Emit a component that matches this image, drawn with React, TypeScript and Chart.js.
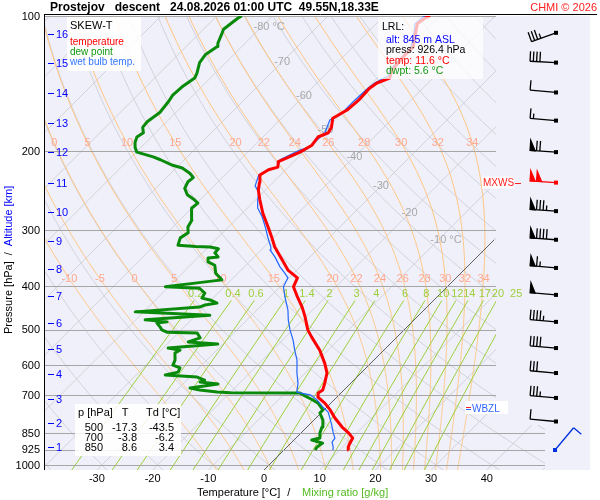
import React, { useEffect, useRef } from "react";
import { Chart, registerables } from "chart.js";
Chart.register(...registerables);

// ---- axes ----
const P_TOP = 100;
const P_BOT = 1026;
const X_MIN = -39.32;
const X_MAX = 58.53;
const SKEW = 80.61; // 45 degree skew: deg C shift per decade of pressure

// ---- temperature profile ----
const tempP = [926.3, 912, 894, 871, 849, 823, 786, 754, 728, 706, 691, 681, 657, 624, 593, 555, 519, 500, 468, 445, 423, 401, 383, 368, 349, 327, 311, 295, 275, 257, 244, 235, 226, 220, 217, 211, 207, 201, 194, 186, 182, 177, 169, 162, 154, 145, 141, 137.5, 132, 122, 117, 110, 104, 101, 100];
const tempT = [11.6, 11.0, 10.6, 10.2, 8.6, 6.3, 3.4, 1.1, -1.1, -3.4, -4.1, -3.8, -4.7, -6.1, -8.3, -11.5, -15.3, -17.3, -20.1, -22.4, -25.0, -27.6, -28.5, -31.6, -34.5, -38.1, -40.4, -42.9, -46.3, -49.2, -51.3, -52.4, -53.7, -53.1, -51.9, -52.8, -51.9, -50.6, -49.7, -50.1, -49.0, -49.4, -50.8, -49.7, -49.4, -49.6, -49.2, -47.8, -48.8, -49.2, -49.2, -51.0, -52.6, -52.2, -51.7];

// ---- dew point profile ----
const dewP = [926.3, 912, 894, 880, 871, 849, 823, 794, 766, 754, 728, 716.5, 700, 691, 690, 688, 681, 674, 660, 653, 647, 637, 630, 621, 608, 599, 584, 563, 555, 549, 538, 532, 521, 508, 506, 500, 493, 483, 480, 475, 464, 456, 445, 440, 436, 429, 425, 414, 404, 401, 393, 387, 383, 374, 359, 353, 346, 344, 337, 330, 327, 326, 324, 312, 304, 295, 285, 268, 261, 257, 250, 242, 234, 229, 224, 218, 215, 209, 206, 201, 196, 191, 186, 182, 177, 172, 164, 155, 150, 144, 137.5, 134, 127, 122, 117, 115, 109, 107, 103, 101, 100];
const dewT = [5.6, 5.4, 5.7, 3.2, 4.3, 3.4, 2.7, 1.6, -0.2, -0.2, -2.3, -3.8, -6.2, -7.4, -19.9, -22.4, -25.9, -28.0, -23.7, -27.3, -26.8, -28.7, -34.8, -33.0, -33.4, -35.2, -35.7, -37.0, -36.6, -39.1, -30.9, -36.6, -35.2, -36.6, -42.2, -43.5, -44.3, -45.6, -44.0, -48.3, -37.5, -51.5, -40.8, -40.2, -38.4, -40.2, -42.0, -42.4, -44.2, -50.6, -45.6, -41.7, -42.4, -44.0, -45.6, -47.4, -48.1, -46.5, -47.8, -47.9, -49.7, -52.4, -55.8, -56.7, -56.2, -57.3, -57.8, -60.0, -59.8, -60.9, -63.2, -64.8, -65.4, -65.2, -66.6, -68.9, -71.1, -74.3, -76.1, -79.9, -81.1, -82.0, -82.6, -82.2, -83.3, -83.5, -82.9, -83.3, -83.7, -83.5, -82.8, -83.3, -84.7, -85.1, -84.4, -84.9, -86.0, -86.4, -86.0, -85.8, -85.5];

// ---- wet bulb profile ----
const wbP = [926.3, 912, 889, 871, 845, 815, 786, 762, 743, 716, 698, 691, 688, 657, 624, 584, 555, 527, 500, 475, 452, 422.5, 401, 383, 374, 362, 344, 332, 327, 311, 295, 280, 268, 257, 247, 239, 226, 221, 217, 209, 199, 196, 189, 182, 178, 170.5, 166, 160, 154, 145, 141, 136, 132, 123, 117, 110, 104, 100.5, 100];
const wbT = [8.8, 8.3, 7.2, 7.0, 5.6, 4.1, 2.5, 1.1, -0.7, -3.1, -5.2, -7.4, -8.1, -9.5, -11.5, -13.8, -16.0, -18.1, -20.5, -22.6, -24.4, -27.3, -29.4, -30.2, -31.6, -33.6, -36.3, -38.4, -38.8, -41.1, -43.4, -45.8, -48.1, -49.6, -50.8, -52.6, -53.9, -53.1, -51.9, -52.8, -51.0, -49.7, -49.7, -49.6, -50.1, -51.0, -50.1, -50.1, -50.1, -49.9, -49.6, -48.5, -49.2, -49.4, -49.6, -51.3, -53.0, -52.8, -52.5];

// ---- wind (kt, deg) ----
const windP = [109, 127, 148, 171, 201, 235, 272, 315, 364, 418, 480, 549, 624, 709, 800, 926];
const windSpd = [35, 40, 10, 15, 70, 100, 85, 90, 65, 50, 45, 40, 30, 35, 10, 10];
const windDir = [250, 273, 275, 275, 274, 274, 274, 274, 275, 275, 275, 275, 275, 275, 275, 40];

// ---- tick labels ----
const pressureTicks = [100, 200, 300, 400, 500, 600, 700, 850, 925, 1000];
const tempTicks = [-30, -20, -10, 0, 10, 20, 30, 40];
const kmLabels = ["1", "2", "3", "4", "5", "6", "7", "8", "9", "10", "11", "12", "13", "14", "15", "16"];
const kmP = [912, 806, 713, 627, 552, 483, 420, 366, 317, 273, 235.5, 200.5, 173, 148.4, 127.3, 109.6];
const mixRatios = [0.2, 0.4, 0.6, 1, 1.4, 2, 3, 4, 6, 8, 10, 12, 14, 17, 20, 25];
const thetaW = [-10, -5, 0, 5, 10, 15, 20, 22, 24, 26, 28, 30, 32, 34];
const thetaWLabelRows = [192, 385];
const thetaWLabelMin = [0, -10];
const isoLabelT = [-80, -70, -60, -50, -40, -30, -20, -10];
const isoLabelP = [105.8, 126.6, 150.6, 179.4, 205.9, 239.1, 274.7, 315.4];

// ---- text tables ----
const tableP = ["500", "700", "850"];
const tableT = ["-17.3", "-3.8", "8.6"];
const tableTd = ["-43.5", "-6.2", "3.4"];
const lrlAlt = 845;
const lrlPress = 926.4;
const lrlTemp = 11.6;
const lrlDwpt = 5.6;
const MXWS_P = 235;
const WBZL_P = 750;

const FONT = '"Liberation Sans", Arial, sans-serif';

function skewX(T: number, p: number) {
  return T + SKEW * Math.log10(P_BOT / p);
}
function toPoints(ps: number[], ts: number[]) {
  return ps.map((p, i) => ({ x: skewX(ts[i], p), y: p }));
}

function satMoist(thw: number): [number, number][] {
  const Rd = 287.04, Cp = 1005.7, Lv = 2.501e6, eps = 0.622;
  const f = (p: number, TK: number) => {
    const Tc = TK - 273.15;
    const e = 6.112 * Math.exp((17.67 * Tc) / (Tc + 243.5));
    const rs = (eps * e) / (p - e);
    return (Rd * TK + Lv * rs) / (p * (Cp + (Lv * Lv * rs * eps) / (Rd * TK * TK)));
  };
  const integ = (h: number, stop: (p: number) => boolean) => {
    let p = 1000, TK = thw + 273.15;
    const out: [number, number][] = [[p, TK - 273.15]];
    while (!stop(p)) {
      const k1 = f(p, TK);
      const k2 = f(p + h / 2, TK + (k1 * h) / 2);
      const k3 = f(p + h / 2, TK + (k2 * h) / 2);
      const k4 = f(p + h, TK + k3 * h);
      TK += (h * (k1 + 2 * k2 + 2 * k3 + k4)) / 6;
      p += h;
      out.push([p, TK - 273.15]);
    }
    return out;
  };
  const down = integ(2, (p) => p >= P_BOT + 2).reverse();
  const up = integ(-2, (p) => p <= P_TOP - 1);
  return down.concat(up.slice(1));
}

function interpT(prof: [number, number][], p: number) {
  for (let i = 0; i < prof.length - 1; i++) {
    const [p1, t1] = prof[i];
    const [p2, t2] = prof[i + 1];
    if ((p1 - p) * (p2 - p) <= 0) {
      const r = (p - p1) / (p2 - p1 || 1);
      return t1 + r * (t2 - t1);
    }
  }
  return prof[prof.length - 1][1];
}

function mixT(w: number, p: number) {
  const es = (w * p) / (622 + w);
  const l = Math.log(es / 6.112);
  return (243.5 * l) / (17.67 - l);
}

function txt(ctx: CanvasRenderingContext2D, s: string, x: number, y: number, color: string, size: number, align: CanvasTextAlign = "left", bold = false) {
  ctx.font = `${bold ? "bold " : ""}${size}px ${FONT}`;
  ctx.fillStyle = color;
  ctx.textAlign = align;
  ctx.textBaseline = "middle";
  ctx.fillText(s, x, y);
}

function drawBarb(ctx: CanvasRenderingContext2D, x0: number, y0: number, dir: number, spd: number, color: string, len: number) {
  const r = (dir * Math.PI) / 180;
  const sx = Math.sin(r), sy = -Math.cos(r);
  const px = -sy, py = sx;
  const bl = 10;
  ctx.save();
  ctx.strokeStyle = color;
  ctx.fillStyle = color;
  ctx.lineWidth = 1.3;
  ctx.beginPath();
  ctx.moveTo(x0, y0);
  ctx.lineTo(x0 + sx * len, y0 + sy * len);
  ctx.stroke();
  ctx.fillRect(x0 - 2, y0 - 2, 4, 4);
  let rem = Math.round(spd / 5) * 5;
  let d = len;
  while (rem >= 50) {
    const ax = x0 + sx * d, ay = y0 + sy * d;
    ctx.beginPath();
    ctx.moveTo(ax, ay);
    ctx.lineTo(ax + px * bl, ay + py * bl);
    ctx.lineTo(x0 + sx * (d - 5), y0 + sy * (d - 5));
    ctx.closePath();
    ctx.fill();
    ctx.stroke();
    d -= 6.5;
    rem -= 50;
  }
  while (rem >= 10) {
    const ax = x0 + sx * d, ay = y0 + sy * d;
    ctx.beginPath();
    ctx.moveTo(ax, ay);
    ctx.lineTo(ax + px * bl, ay + py * bl);
    ctx.stroke();
    d -= 3.3;
    rem -= 10;
  }
  if (rem >= 5) {
    const ax = x0 + sx * d, ay = y0 + sy * d;
    ctx.beginPath();
    ctx.moveTo(ax, ay);
    ctx.lineTo(ax + px * bl * 0.5, ay + py * bl * 0.5);
    ctx.stroke();
  }
  ctx.restore();
}

const skewPlugin = {
  id: "skewt",
  beforeDraw(chart: any) {
    const { ctx, chartArea: a } = chart;
    ctx.save();
    ctx.fillStyle = "#ffffff";
    ctx.fillRect(0, 0, chart.width, chart.height);
    ctx.fillStyle = "#f0f0fa";
    ctx.fillRect(a.left, a.top, a.right - a.left, a.bottom - a.top);
    ctx.restore();
  },
  beforeDatasetsDraw(chart: any) {
    const { ctx, chartArea: a } = chart;
    const xs = chart.scales.x, ys = chart.scales.y;
    const X = (T: number, p: number) => xs.getPixelForValue(skewX(T, p));
    const Y = (p: number) => ys.getPixelForValue(p);
    const xCut = xs.getPixelForValue(41.65);
    const xEnd = xs.getPixelForValue(50.45);
    const yCut = Y(815);
    const curve = (fn: (p: number) => number, p0: number, p1: number, n = 80) => {
      ctx.beginPath();
      for (let i = 0; i <= n; i++) {
        const p = p0 * Math.pow(p1 / p0, i / n);
        const x = X(fn(p), p), y = Y(p);
        if (i === 0) ctx.moveTo(x, y);
        else ctx.lineTo(x, y);
      }
      ctx.stroke();
    };
    ctx.save();
    ctx.beginPath();
    ctx.rect(a.left, a.top, xCut - a.left, a.bottom - a.top);
    ctx.rect(xCut, yCut, xEnd - xCut, a.bottom - yCut);
    ctx.clip();
    ctx.lineWidth = 1;
    // isotherms
    ctx.strokeStyle = "#d2d2da";
    for (let T = -140; T <= 50; T += 10) curve(() => T, P_BOT, P_TOP, 2);
    // dry adiabats
    for (let th = -40; th <= 200; th += 10) curve((p) => (th + 273.15) * Math.pow(p / 1000, 0.2857) - 273.15, P_BOT, P_TOP, 60);
    // moist adiabats
    ctx.strokeStyle = "#ffc47e";
    const moist = thetaW.map((t) => satMoist(t));
    moist.forEach((prof) => {
      ctx.beginPath();
      prof.forEach(([p, T], i) => {
        const x = X(T, p), y = Y(p);
        if (i === 0) ctx.moveTo(x, y);
        else ctx.lineTo(x, y);
      });
      ctx.stroke();
    });
    // mixing ratio lines
    ctx.strokeStyle = "#9ccf3a";
    mixRatios.forEach((w) => curve((p) => mixT(w, p), P_BOT, 430, 20));
    // 0 C isotherm
    ctx.strokeStyle = "#606060";
    curve(() => 0, P_BOT, 315, 2);
    // isobars
    ctx.strokeStyle = "#a6a6a6";
    pressureTicks.forEach((p) => {
      const y = Math.round(Y(p)) + 0.5;
      ctx.beginPath();
      ctx.moveTo(a.left, y);
      ctx.lineTo(p >= 800 ? xEnd : xCut, y);
      ctx.stroke();
    });
    ctx.restore();

    // grid labels
    ctx.save();
    isoLabelT.forEach((T, i) => {
      const p = isoLabelP[i];
      const x = X(T, p), y = Y(p);
      ctx.font = `11px ${FONT}`;
      const s = String(T);
      const w = ctx.measureText(s).width;
      txt(ctx, s + (T === -80 || T === -10 ? " \u00b0C" : ""), x - w / 2, y, "#a8a8a8", 11);
    });
    thetaWLabelRows.forEach((p, r) => {
      moist.forEach((prof, i) => {
        if (thetaW[i] < thetaWLabelMin[r]) return;
        let x = X(interpT(prof, p), p);
        if (!isFinite(x)) x = a.left;
        if (x < xCut) {
          x = Math.max(x, a.left + 7);
          txt(ctx, String(thetaW[i]), x, Y(p), "#ffa88e", 11, "center");
        }
      });
    });
    mixRatios.forEach((w) => {
      const x = X(mixT(w, 425), 425);
      txt(ctx, String(w), x, Y(416), "#9ccf3a", 11, "center");
    });
    ctx.restore();
  },
  afterDatasetsDraw(chart: any) {
    const { ctx, chartArea: a } = chart;
    const xs = chart.scales.x, ys = chart.scales.y;
    const Y = (p: number) => ys.getPixelForValue(p);
    ctx.save();

    // legend box
    ctx.fillStyle = "rgba(255,255,255,0.88)";
    ctx.fillRect(67, 17, 74, 54);
    txt(ctx, "SKEW-T", 70, 26, "#000", 11);
    txt(ctx, "temperature", 70, 42, "#ff0000", 10);
    txt(ctx, "dew point", 70, 52, "#119911", 10);
    txt(ctx, "wet bulb temp.", 70, 62, "#3377ff", 10);

    // LRL box
    ctx.fillStyle = "rgba(255,255,255,0.72)";
    ctx.fillRect(378, 17, 105, 62);
    txt(ctx, "LRL:", 382, 27, "#000", 10.5);
    txt(ctx, `alt: ${lrlAlt} m ASL`, 386, 40, "#0000ff", 10.5);
    txt(ctx, `press: ${lrlPress.toFixed(1)} hPa`, 386, 50, "#000", 10.5);
    txt(ctx, `temp: ${lrlTemp.toFixed(1)} \u00b0C`, 386, 61, "#ff0000", 10.5);
    txt(ctx, `dwpt: ${lrlDwpt.toFixed(1)} \u00b0C`, 386, 71, "#119911", 10.5);

    // table box
    ctx.fillStyle = "rgba(255,255,255,0.88)";
    ctx.fillRect(75, 404, 106, 52);
    txt(ctx, "p [hPa]", 78, 413, "#000", 11);
    txt(ctx, "T", 125, 413, "#000", 11, "center");
    txt(ctx, "Td [\u00b0C]", 146, 413, "#000", 11);
    tableP.forEach((s, i) => {
      const y = 428 + i * 10;
      txt(ctx, s, 103, y, "#000", 11, "right");
      txt(ctx, tableT[i], 137, y, "#000", 11, "right");
      txt(ctx, tableTd[i], 174, y, "#000", 11, "right");
    });

    // MXWS label
    const ym = Y(MXWS_P);
    ctx.fillStyle = "#ffffff";
    ctx.fillRect(482, ym - 6, 32, 12);
    txt(ctx, "MXWS", 483, ym + 0.5, "#ff2020", 10);
    ctx.strokeStyle = "#ff2020";
    ctx.lineWidth = 1;
    ctx.beginPath();
    ctx.moveTo(515, Math.round(ym) + 0.5);
    ctx.lineTo(521, Math.round(ym) + 0.5);
    ctx.stroke();

    // WBZL label
    const yw = Y(WBZL_P);
    ctx.fillStyle = "#ffffff";
    ctx.fillRect(465, yw - 8, 43, 13);
    ctx.strokeStyle = "#ff2020";
    ctx.beginPath();
    ctx.moveTo(466, Math.round(yw) - 1.5);
    ctx.lineTo(471, Math.round(yw) - 1.5);
    ctx.stroke();
    ctx.strokeStyle = "#3060ff";
    ctx.beginPath();
    ctx.moveTo(466, Math.round(yw) + 0.5);
    ctx.lineTo(471, Math.round(yw) + 0.5);
    ctx.stroke();
    txt(ctx, "WBZL", 472, yw, "#3366ff", 10);

    // wind barbs
    const bx = a.right - 34;
    windP.forEach((p, i) => {
      const y = Y(p);
      const isMax = p === MXWS_P;
      const isSfc = i === windP.length - 1;
      const color = isMax ? "#ff0000" : isSfc ? "#0030dd" : "#000000";
      drawBarb(ctx, isSfc ? bx - 1 : bx, y, windDir[i], windSpd[i], color, isSfc ? 29 : 26);
    });

    // borders
    ctx.strokeStyle = "#000";
    ctx.lineWidth = 1;
    ctx.beginPath();
    ctx.moveTo(a.left - 1, a.top - 1.5);
    ctx.lineTo(597, a.top - 1.5);
    ctx.moveTo(a.left - 0.5, a.top - 2);
    ctx.lineTo(a.left - 0.5, a.bottom);
    ctx.stroke();

    // pressure labels
    pressureTicks.forEach((p) => txt(ctx, String(p), 40, Y(p) + 0.5, "#000", 11, "right"));
    // altitude labels
    ctx.strokeStyle = "#0000ff";
    kmP.forEach((p, i) => {
      const y = Math.round(Y(p)) + 0.5;
      ctx.beginPath();
      ctx.moveTo(48, y);
      ctx.lineTo(54, y);
      ctx.stroke();
      txt(ctx, kmLabels[i], 56, y, "#0000ff", 11);
    });
    // temperature ticks
    tempTicks.forEach((T) => txt(ctx, String(T), xs.getPixelForValue(T), 479, "#000", 11, "center"));

    // bottom title
    ctx.font = `11px ${FONT}`;
    let bxp = 197;
    txt(ctx, "Temperature [\u00b0C]", bxp, 493, "#000", 11);
    bxp += ctx.measureText("Temperature [\u00b0C]").width + 7;
    txt(ctx, "/", bxp, 493, "#000", 11);
    txt(ctx, "Mixing ratio [g/kg]", 302, 493, "#55bb22", 11);

    // left rotated title
    ctx.save();
    ctx.translate(9, 334);
    ctx.rotate(-Math.PI / 2);
    ctx.font = `11px ${FONT}`;
    let lx = 0;
    txt(ctx, "Pressure [hPa]", lx, 0, "#000", 11);
    lx += ctx.measureText("Pressure [hPa]").width + 6;
    txt(ctx, "/", lx, 0, "#000", 11);
    lx += ctx.measureText("/").width + 6;
    txt(ctx, "Altitude [km]", lx, 0, "#0000ff", 11);
    ctx.restore();

    // top title
    txt(ctx, "Prostejov   descent   24.08.2026 01:00 UTC  49.55N,18.33E", 50, 8, "#000", 12, "left", true);
    txt(ctx, "CHMI \u00a9 2026", 597, 8, "#ff2020", 11, "right");
    ctx.restore();
  },
};

export default function App() {
  const ref = useRef<HTMLCanvasElement | null>(null);
  useEffect(() => {
    if (!ref.current) return;
    const chart = new Chart(ref.current, {
      type: "scatter",
      data: {
        datasets: [
          { label: "temperature", data: toPoints(tempP, tempT), showLine: true, borderColor: "#ff0000", backgroundColor: "#ff0000", borderWidth: 3, pointRadius: 0, borderJoinStyle: "round" },
          { label: "wet bulb temp.", data: toPoints(wbP, wbT), showLine: true, borderColor: "#2266ff", backgroundColor: "#2266ff", borderWidth: 1.2, pointRadius: 0 },
          { label: "dew point", data: toPoints(dewP, dewT), showLine: true, borderColor: "#0a8a0a", backgroundColor: "#0a8a0a", borderWidth: 3, pointRadius: 0, borderJoinStyle: "round" },
        ],
      } as any,
      options: {
        animation: false,
        responsive: false,
        events: [],
        layout: { padding: { left: 45, top: 16, right: 10, bottom: 30 } },
        scales: {
          x: { type: "linear", min: X_MIN, max: X_MAX, display: false },
          y: { type: "logarithmic", min: P_TOP, max: P_BOT, reverse: true, display: false },
        },
        plugins: { legend: { display: false }, tooltip: { enabled: false }, title: { display: false } },
      } as any,
      plugins: [skewPlugin as any],
    });
    return () => chart.destroy();
  }, []);
  return (
    <div style={{ position: "absolute", left: 0, top: 0, width: 600, height: 500 }}>
      <canvas ref={ref} width={600} height={500} style={{ display: "block", width: 600, height: 500 }} />
    </div>
  );
}
